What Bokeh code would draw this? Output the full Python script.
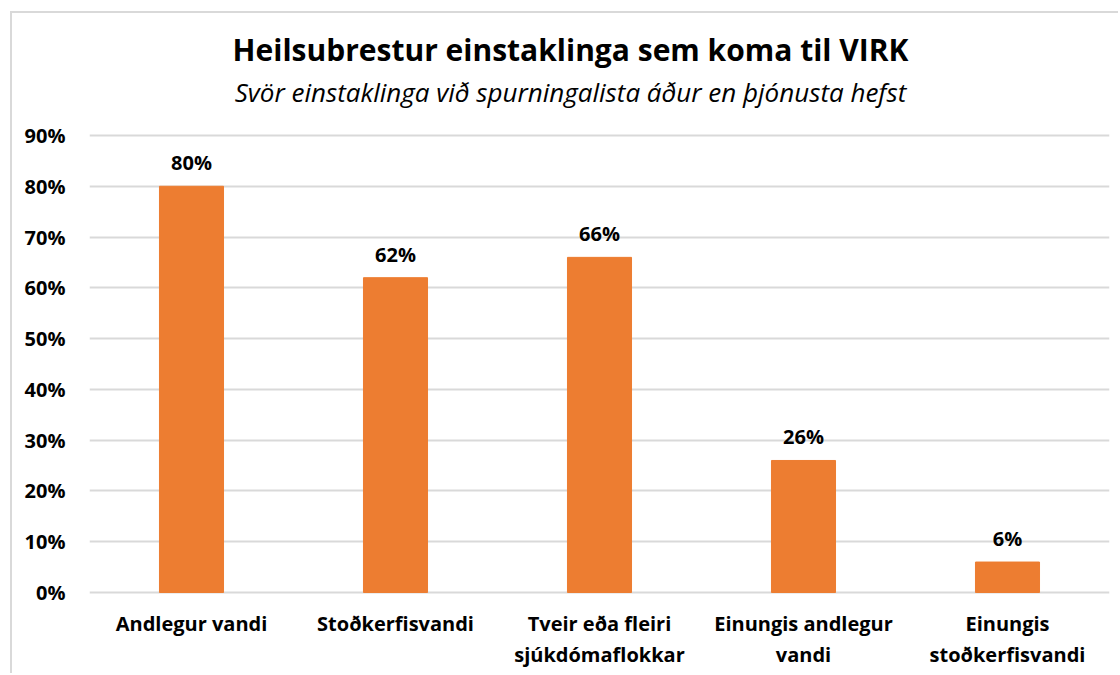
from bokeh.plotting import figure
from bokeh.models import ColumnDataSource, Range1d, FactorRange, LabelSet, Label, NumeralTickFormatter, FixedTicker
from bokeh.core.properties import value
from bokeh.embed import file_html
from bokeh.resources import INLINE

categories = ["Andlegur vandi", "Stoðkerfisvandi", "Tveir eða fleiri sjúkdómaflokkar",
              "Einungis andlegur vandi", "Einungis stoðkerfisvandi"]
cat_line1 = ["Andlegur vandi", "Stoðkerfisvandi", "Tveir eða fleiri", "Einungis andlegur", "Einungis"]
cat_line2 = ["", "", "sjúkdómaflokkar", "vandi", "stoðkerfisvandi"]
values = [0.80, 0.62, 0.66, 0.26, 0.06]
labels = [f"{round(v*100)}%" for v in values]
title_text = "Heilsubrestur einstaklinga sem koma til VIRK"
subtitle_text = "Svör einstaklinga við spurningalista áður en þjónusta hefst"

FONT = "Open Sans"
BAR = "#ED7D31"
GRID = "#d9d9d9"
LBL_SIZE = "20px"

PX = 0.9 / 457.0  # data units per pixel on the y axis (0..90% spans 457 px)

# only non-empty second lines are drawn
l2_cats = [c for c, t in zip(categories, cat_line2) if t]
l2_text = [t for t in cat_line2 if t]

src = ColumnDataSource(dict(cat=categories, val=values, lab=labels,
                            l1=cat_line1, y1=[-31 * PX] * len(categories)))
src2 = ColumnDataSource(dict(cat=l2_cats, l2=l2_text, y2=[-62 * PX] * len(l2_cats)))

p = figure(x_range=FactorRange(*categories), y_range=Range1d(-83 * PX, 0.9 + 122 * PX),
           width=1108, height=662, output_backend="svg", toolbar_location=None,
           min_border_left=77, min_border_right=11, min_border_top=0, min_border_bottom=0,
           title=None)
p.styles = {"margin-left": "10px", "margin-top": "11px",
            "border-left": "2px solid #d9d9d9", "border-top": "2px solid #d9d9d9"}

p.vbar(x="cat", top="val", width=0.314, source=src, color=BAR)

p.add_layout(LabelSet(x="cat", y="val", text="lab", source=src, text_align="center",
                      text_baseline="bottom", y_offset=10, text_font=value(FONT),
                      text_font_style="bold", text_font_size=LBL_SIZE, text_color="#000000"))

p.add_layout(LabelSet(x="cat", y="y1", text="l1", source=src, text_align="center",
                      text_baseline="middle", text_font=value(FONT),
                      text_font_style="bold", text_font_size=LBL_SIZE, text_color="#000000"))
p.add_layout(LabelSet(x="cat", y="y2", text="l2", source=src2, text_align="center",
                      text_baseline="middle", text_font=value(FONT),
                      text_font_style="bold", text_font_size=LBL_SIZE, text_color="#000000"))

p.add_layout(Label(x=(570 - 89) / 204.0, y=0.9 + 86 * PX, text=title_text,
                   text_align="center", text_baseline="middle", text_font=FONT,
                   text_font_style="bold", text_font_size="30px", text_color="#000000"))
p.add_layout(Label(x=(570 - 89) / 204.0, y=0.9 + 44 * PX, text=subtitle_text,
                   text_align="center", text_baseline="middle", text_font=FONT,
                   text_font_style="italic", text_font_size="26px", text_color="#000000"))

p.outline_line_color = None
p.xgrid.grid_line_color = None
p.ygrid.grid_line_color = GRID
p.ygrid.grid_line_width = 2
p.xaxis.visible = False
p.yaxis.ticker = FixedTicker(ticks=[i/10 for i in range(10)])
p.yaxis.formatter = NumeralTickFormatter(format="0%")
p.yaxis.axis_line_color = None
p.yaxis.major_tick_line_color = None
p.yaxis.minor_tick_line_color = None
p.yaxis.major_tick_out = 0
p.yaxis.major_tick_in = 0
p.yaxis.major_label_text_font = FONT
p.yaxis.major_label_text_font_style = "bold"
p.yaxis.major_label_text_font_size = LBL_SIZE
p.yaxis.major_label_text_color = "#000000"
p.yaxis.major_label_standoff = 24
p.background_fill_color = "white"
p.border_fill_color = "white"

open("out.html", "w").write(file_html(p, INLINE))
